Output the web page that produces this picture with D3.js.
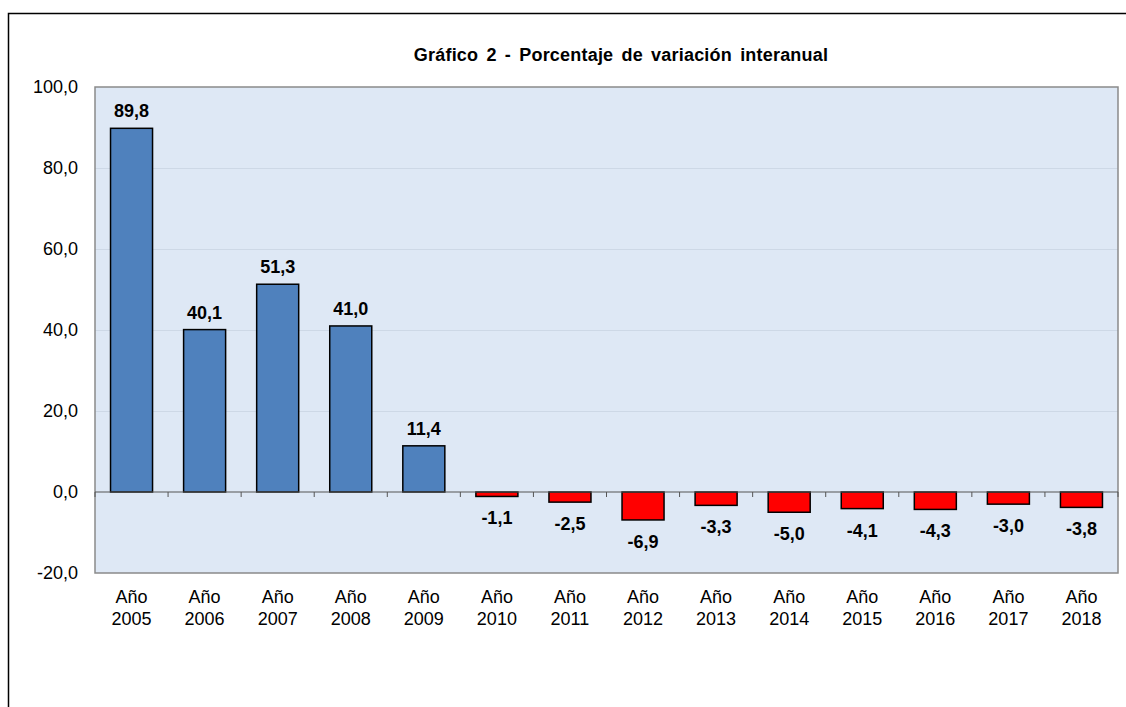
<!DOCTYPE html>
<html>
<head>
<meta charset="utf-8">
<script src="https://cdn.jsdelivr.net/npm/d3@7"></script>
<style>
  body { margin: 0; background: #fff; }
  svg { display: block; font-family: "Liberation Sans", Arial, sans-serif; }
</style>
</head>
<body>
<svg id="chart"></svg>
<script>
// chart data
const years = ["2005", "2006", "2007", "2008", "2009", "2010", "2011",
    "2012", "2013", "2014", "2015", "2016", "2017", "2018"];
const variation = [89.8, 40.1, 51.3, 41.0, 11.4, -1.1, -2.5, -6.9, -3.3, -5.0, -4.1, -4.3, -3.0, -3.8];
const yTicks = [-20, 0, 20, 40, 60, 80, 100];
const title = "Gráfico 2 - Porcentaje de variación interanual";

const W = 1126, H = 707;
const svg = d3.select("#chart").attr("width", W).attr("height", H);

// outer frame (top and left edges only are visible)
svg.append("path")
    .attr("d", "M8.5," + H + "V13.5H" + W)
    .attr("fill", "none")
    .attr("stroke", "#000")
    .attr("stroke-width", 1.5);

const plot = { left: 95, right: 1118, top: 87, bottom: 573 };

const xScale = d3.scaleBand()
    .domain(years)
    .range([plot.left, plot.right])
    .paddingInner(0.425)
    .paddingOuter(0.2125);
const yScale = d3.scaleLinear()
    .domain([-20, 100])
    .range([plot.bottom, plot.top]);

const fmt = (v) => d3.format(".1f")(v).replace(".", ",").replace("−", "-");

//title
svg.append("text")
    .attr("x", 621)
    .attr("y", 61)
    .attr("text-anchor", "middle")
    .attr("font-size", "18px")
    .attr("font-weight", "bold")
    .attr("word-spacing", "3px")
    .attr("letter-spacing", "0.2px")
    .text(title);

//plot background
svg.append("rect")
    .attr("x", plot.left)
    .attr("y", plot.top)
    .attr("width", plot.right - plot.left)
    .attr("height", plot.bottom - plot.top)
    .attr("fill", "#dee8f5");

//gridlines
svg.append("g")
    .selectAll("line")
    .data(yTicks.filter((t) => t !== 0 && t !== -20 && t !== 100))
    .enter().append("line")
    .attr("x1", plot.left)
    .attr("x2", plot.right)
    .attr("y1", (d) => yScale(d) + 0.5)
    .attr("y2", (d) => yScale(d) + 0.5)
    .attr("stroke", "#cdd8e6")
    .attr("stroke-width", 1);

//plot border
svg.append("rect")
    .attr("x", plot.left)
    .attr("y", plot.top)
    .attr("width", plot.right - plot.left)
    .attr("height", plot.bottom - plot.top)
    .attr("fill", "none")
    .attr("stroke", "#8a8a8a")
    .attr("stroke-width", 1.5);

//y axis labels
const yAxis = svg.append("g")
    .attr("transform", "translate(" + plot.left + ",0)")
    .call(d3.axisLeft(yScale).tickValues(yTicks).tickFormat(fmt).tickSize(0).tickPadding(17));
yAxis.select(".domain").remove();
yAxis.selectAll("text")
    .attr("font-size", "18px")
    .attr("font-family", "Liberation Sans, Arial, sans-serif")
    .attr("fill", "#000");

//bars
const data = years.map((y, i) => ({ year: y, value: variation[i] }));
svg.append("g")
    .selectAll("rect")
    .data(data)
    .enter().append("rect")
    .attr("x", (d) => xScale(d.year))
    .attr("y", (d) => yScale(Math.max(0, d.value)))
    .attr("width", xScale.bandwidth())
    .attr("height", (d) => Math.abs(yScale(d.value) - yScale(0)))
    .attr("fill", (d) => d.value >= 0 ? "#4f81bd" : "#ff0000")
    .attr("stroke", "#000")
    .attr("stroke-width", 1.5);

//zero axis with ticks between categories
const zeroY = yScale(0);
svg.append("line")
    .attr("x1", plot.left)
    .attr("x2", plot.right)
    .attr("y1", zeroY)
    .attr("y2", zeroY)
    .attr("stroke", "#555")
    .attr("stroke-width", 1.2);
const step = (plot.right - plot.left) / years.length;
svg.append("g")
    .selectAll("line")
    .data(d3.range(years.length + 1))
    .enter().append("line")
    .attr("x1", (i) => plot.left + i * step)
    .attr("x2", (i) => plot.left + i * step)
    .attr("y1", zeroY)
    .attr("y2", zeroY + 5)
    .attr("stroke", "#555")
    .attr("stroke-width", 1);

//value labels
svg.append("g")
    .selectAll("text")
    .data(data)
    .enter().append("text")
    .attr("x", (d) => xScale(d.year) + xScale.bandwidth() / 2)
    .attr("y", (d) => d.value >= 0 ? yScale(d.value) - 11 : yScale(d.value) + 28)
    .attr("text-anchor", "middle")
    .attr("font-size", "18px")
    .attr("font-weight", "bold")
    .text((d) => fmt(d.value));

//category labels
const xl = svg.append("g")
    .selectAll("text")
    .data(years)
    .enter().append("text")
    .attr("x", (d) => xScale(d) + xScale.bandwidth() / 2)
    .attr("text-anchor", "middle")
    .attr("font-size", "18px");
xl.append("tspan")
    .attr("x", (d) => xScale(d) + xScale.bandwidth() / 2)
    .attr("y", 603)
    .text("Año");
xl.append("tspan")
    .attr("x", (d) => xScale(d) + xScale.bandwidth() / 2)
    .attr("y", 625)
    .text((d) => d);
</script>
</body>
</html>
